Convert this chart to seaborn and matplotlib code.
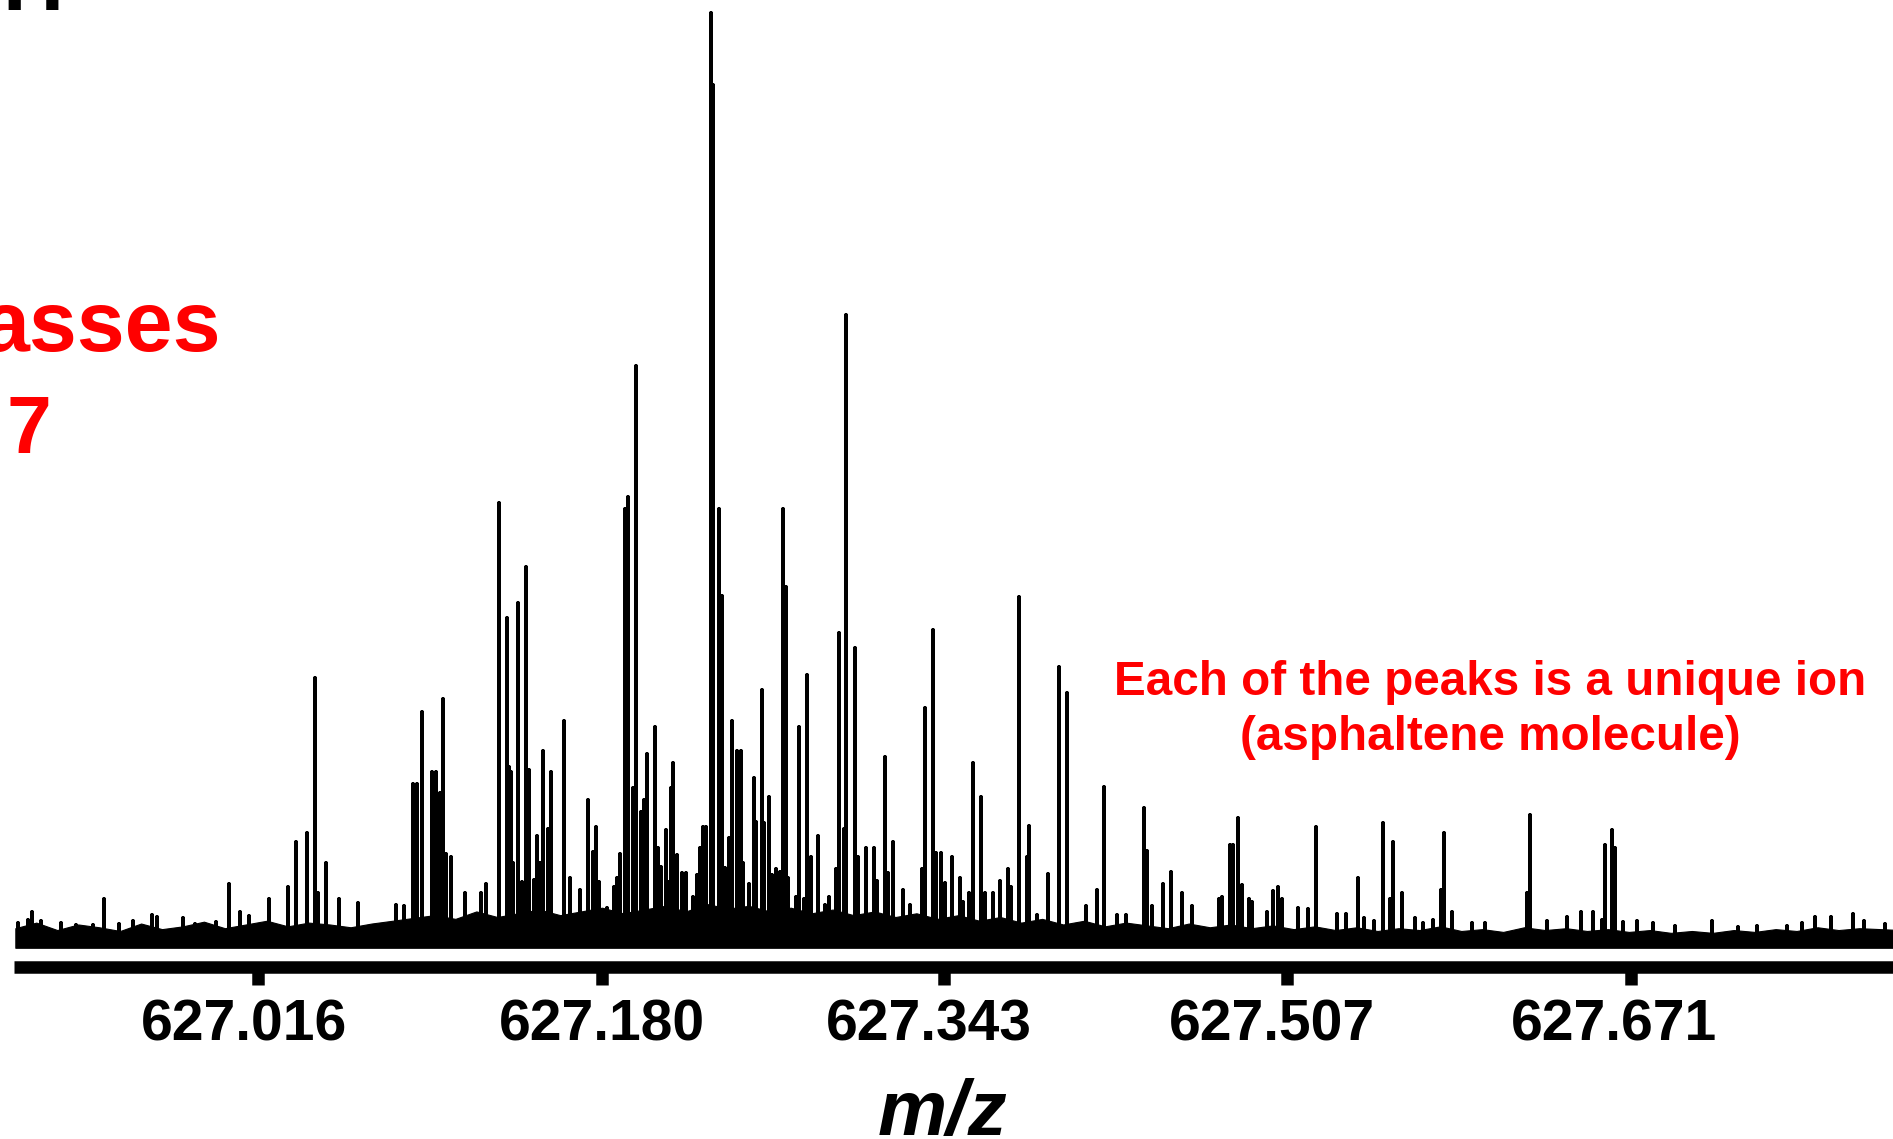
import matplotlib
matplotlib.use("Agg")
import numpy as np
import pandas as pd
import matplotlib.pyplot as plt
import matplotlib.transforms as mtransforms
import seaborn as sns

# ---- spectrum data: centroid m/z and relative intensity (% of base peak) ----
peak_mz = [
    626.9013, 626.9061, 626.9080, 626.9123, 626.9218, 626.9290, 626.9371, 626.9423,
    626.9495, 626.9562, 626.9652, 626.9676, 626.9800, 626.9857, 626.9958, 627.0020,
    627.0072, 627.0115, 627.0211, 627.0301, 627.0339, 627.0392, 627.0430, 627.0444,
    627.0483, 627.0545, 627.0635, 627.0817, 627.0855, 627.0898, 627.0917, 627.0941,
    627.0988, 627.1008, 627.1027, 627.1041, 627.1055, 627.1079, 627.1146, 627.1222,
    627.1246, 627.1308, 627.1346, 627.1356, 627.1365, 627.1375, 627.1399, 627.1418,
    627.1437, 627.1451, 627.1475, 627.1490, 627.1504, 627.1518, 627.1542, 627.1556,
    627.1618, 627.1647, 627.1695, 627.1733, 627.1757, 627.1771, 627.1785, 627.1824,
    627.1857, 627.1871, 627.1886, 627.1909, 627.1924, 627.1948, 627.1962, 627.1986,
    627.2000, 627.2014, 627.2053, 627.2067, 627.2081, 627.2105, 627.2115, 627.2129,
    627.2139, 627.2158, 627.2181, 627.2201, 627.2234, 627.2253, 627.2267, 627.2282,
    627.2296, 627.2320, 627.2329, 627.2358, 627.2372, 627.2387, 627.2406, 627.2420,
    627.2444, 627.2463, 627.2473, 627.2501, 627.2525, 627.2535, 627.2563, 627.2573,
    627.2597, 627.2611, 627.2630, 627.2649, 627.2663, 627.2678, 627.2687, 627.2725,
    627.2740, 627.2764, 627.2778, 627.2797, 627.2830, 627.2864, 627.2883, 627.2916,
    627.2931, 627.2954, 627.2964, 627.3007, 627.3021, 627.3059, 627.3098, 627.3112,
    627.3150, 627.3164, 627.3188, 627.3236, 627.3269, 627.3327, 627.3341, 627.3379,
    627.3393, 627.3417, 627.3436, 627.3470, 627.3508, 627.3522, 627.3551, 627.3570,
    627.3608, 627.3627, 627.3666, 627.3699, 627.3737, 627.3751, 627.3790, 627.3828,
    627.3837, 627.3875, 627.3928, 627.3980, 627.4019, 627.4109, 627.4162, 627.4195,
    627.4257, 627.4300, 627.4386, 627.4400, 627.4424, 627.4477, 627.4515, 627.4567,
    627.4615, 627.4744, 627.4758, 627.4796, 627.4811, 627.4835, 627.4854, 627.4887,
    627.4901, 627.4973, 627.5002, 627.5026, 627.5045, 627.5121, 627.5169, 627.5207,
    627.5307, 627.5350, 627.5407, 627.5436, 627.5484, 627.5527, 627.5560, 627.5574,
    627.5617, 627.5679, 627.5717, 627.5765, 627.5803, 627.5818, 627.5856, 627.5951,
    627.6013, 627.6214, 627.6228, 627.6309, 627.6405, 627.6471, 627.6529, 627.6572,
    627.6586, 627.6619, 627.6634, 627.6672, 627.6739, 627.6815, 627.6920, 627.7097,
    627.7221, 627.7311, 627.7454, 627.7526, 627.7588, 627.7664, 627.7769, 627.7822,
    627.7922,
]
peak_intensity = [
    2.4, 2.7, 3.5, 2.6, 2.4, 2.1, 2.1, 4.9,
    2.3, 2.6, 3.2, 3.0, 2.9, 2.3, 2.5, 6.5,
    3.5, 3.1, 4.9, 6.2, 11.1, 12.0, 28.6, 5.6,
    8.8, 4.9, 4.5, 4.3, 4.2, 17.3, 17.3, 25.0,
    18.6, 18.6, 16.3, 26.4, 9.8, 9.4, 5.6, 5.6,
    6.5, 47.4, 35.1, 19.1, 18.6, 8.8, 36.7, 6.8,
    40.6, 18.8, 7.0, 11.7, 8.8, 20.8, 12.4, 18.6,
    24.0, 7.2, 5.9, 15.6, 10.0, 12.7, 6.8, 4.0,
    6.2, 7.2, 9.8, 46.8, 48.1, 16.8, 62.1, 14.3,
    15.6, 20.5, 23.4, 10.4, 8.4, 12.3, 6.8, 16.8,
    19.5, 9.7, 7.7, 7.7, 5.2, 7.5, 10.4, 12.7,
    12.7, 100.0, 92.3, 46.8, 37.4, 8.3, 11.5, 24.0,
    20.8, 20.8, 8.8, 6.5, 17.9, 13.2, 27.4, 13.1,
    15.9, 7.5, 8.2, 7.8, 46.8, 38.4, 7.2, 5.2,
    23.4, 4.9, 29.0, 9.4, 11.7, 4.3, 5.2, 8.2,
    33.5, 12.4, 67.6, 31.9, 9.4, 10.4, 10.4, 6.9,
    20.2, 7.7, 11.1, 5.9, 4.3, 8.2, 25.4, 33.8,
    9.9, 9.9, 6.7, 9.4, 7.2, 4.6, 5.6, 19.5,
    15.9, 5.6, 5.6, 6.9, 8.2, 6.2, 37.3, 9.4,
    12.8, 3.2, 7.6, 29.8, 27.0, 4.2, 5.9, 17.0,
    3.2, 3.2, 14.7, 10.1, 4.2, 6.5, 7.8, 5.6,
    4.2, 4.9, 5.2, 10.7, 10.7, 13.6, 6.4, 4.9,
    4.6, 3.5, 5.8, 6.2, 4.9, 4.0, 3.9, 12.7,
    3.3, 3.3, 7.2, 2.9, 2.6, 13.1, 4.9, 11.1,
    5.6, 2.9, 2.4, 2.7, 5.9, 12.0, 3.5, 2.4,
    2.4, 5.6, 13.9, 2.6, 3.0, 3.5, 3.5, 2.7,
    10.7, 12.3, 10.4, 2.5, 2.6, 2.4, 2.0, 2.6,
    1.9, 2.0, 2.0, 2.4, 3.0, 3.0, 3.3, 2.6,
    2.3,
]

# baseline noise band: upper envelope sampled every 0.01 m/z from 626.90
noise_start, noise_step = 626.90, 0.01
noise_upper = [
    1.8, 2.4, 1.6, 2.2, 1.9, 1.5, 2.3, 1.7, 2.0, 2.5,
    1.8, 2.2, 2.6, 2.0, 2.4, 2.2, 1.9, 2.3, 2.6, 2.9,
    3.2, 2.8, 3.6, 3.0, 3.4, 3.8, 3.2, 3.6, 4.0, 3.4,
    3.8, 4.2, 3.6, 4.4, 3.9, 4.2, 3.6, 4.0, 3.4, 3.8,
    3.2, 3.6, 3.0, 3.4, 2.8, 3.2, 2.6, 3.0, 2.4, 2.8,
    2.2, 2.6, 2.0, 2.4, 2.1, 1.8, 2.3, 1.9, 2.2, 1.8,
    2.1, 1.7, 2.0, 1.6, 1.9, 1.5, 1.8, 1.6, 2.0, 1.5,
    1.7, 1.4, 1.9, 1.6, 1.8, 1.5, 1.7, 1.4, 1.6, 1.3,
    1.5, 1.3, 1.6, 1.4, 1.7, 1.5, 1.9, 1.6, 1.8, 1.7,
    1.6,
]
noise_mz = [noise_start + noise_step * k for k in range(len(noise_upper))]
noise_floor = -0.3
stick_base = 0.8

tick_values = [627.016, 627.180, 627.343, 627.507, 627.671]
tick_labels = ["627.016", "627.180", "627.343", "627.507", "627.671"]
tick_label_shift_px = [-14, 0, -15, -15, -17]

# ---- figure ----
sns.set_theme(style="white")
plt.rcParams["font.family"] = ["Liberation Sans", "DejaVu Sans"]
plt.rcParams["font.weight"] = "bold"

W, H = 1893, 1139
fig = plt.figure(figsize=(W / 100, H / 100), dpi=100)
fig.patch.set_facecolor("white")
ax = fig.add_axes([14.5 / W, (H - 966.5) / H, 1 - 14.5 / W, 966.5 / H])
ax.set_facecolor("white")

# noise floor
ax.fill_between(noise_mz, noise_floor, noise_upper, color="black", lw=0.8)

# stick spectrum, one up-and-down stroke per ion
order = np.argsort(peak_mz)
rows = []
for i in order:
    m, h = peak_mz[i], peak_intensity[i]
    rows += [(m, stick_base), (m, h), (m, stick_base)]
spec = pd.DataFrame(rows, columns=["mz", "intensity"])
sns.lineplot(data=spec, x="mz", y="intensity", sort=False, estimator=None,
             color="black", lw=2.7, ax=ax)

ax.set_xlim(626.8996, 627.7960)
ax.set_ylim(-2.31, 101.4)
ax.set_xlabel("")
ax.set_ylabel("")
ax.set_yticks([])
ax.set_xticks(tick_values)
ax.set_xticklabels(tick_labels, fontsize=41, fontweight="bold", color="black")
ax.tick_params(axis="x", direction="out", length=13.3, width=9, pad=10,
               color="black", bottom=True)
for lbl, shift in zip(ax.get_xticklabels(), tick_label_shift_px):
    lbl.set_transform(lbl.get_transform()
                      + mtransforms.Affine2D().translate(shift, 0))
for side in ("left", "top", "right"):
    ax.spines[side].set_visible(False)
ax.spines["bottom"].set_linewidth(9)
ax.spines["bottom"].set_color("black")
ax.spines["bottom"].set_capstyle("butt")


def fx(px):
    return px / W


def fy(py):
    return 1 - py / H


fig.text(fx(942), fy(1135), "m/z", fontsize=56, fontweight="bold",
         fontstyle="italic", ha="center", va="baseline", color="black")

red = "#ff0000"
fig.text(fx(1490), fy(695), "Each of the peaks is a unique ion", fontsize=34.3,
         fontweight="bold", color=red, ha="center", va="baseline")
fig.text(fx(1490), fy(750), "(asphaltene molecule)", fontsize=34.3,
         fontweight="bold", color=red, ha="center", va="baseline")

fig.text(fx(221), fy(351), "asses", fontsize=62, fontweight="bold",
         color=red, ha="right", va="baseline")
fig.text(fx(51), fy(453), "7", fontsize=58, fontweight="bold",
         color=red, ha="right", va="baseline")
fig.text(fx(2), fy(10), "H", fontsize=61, fontweight="bold",
         color="black", ha="left", va="baseline")

fig.savefig("out.png", dpi=100, facecolor="white")
